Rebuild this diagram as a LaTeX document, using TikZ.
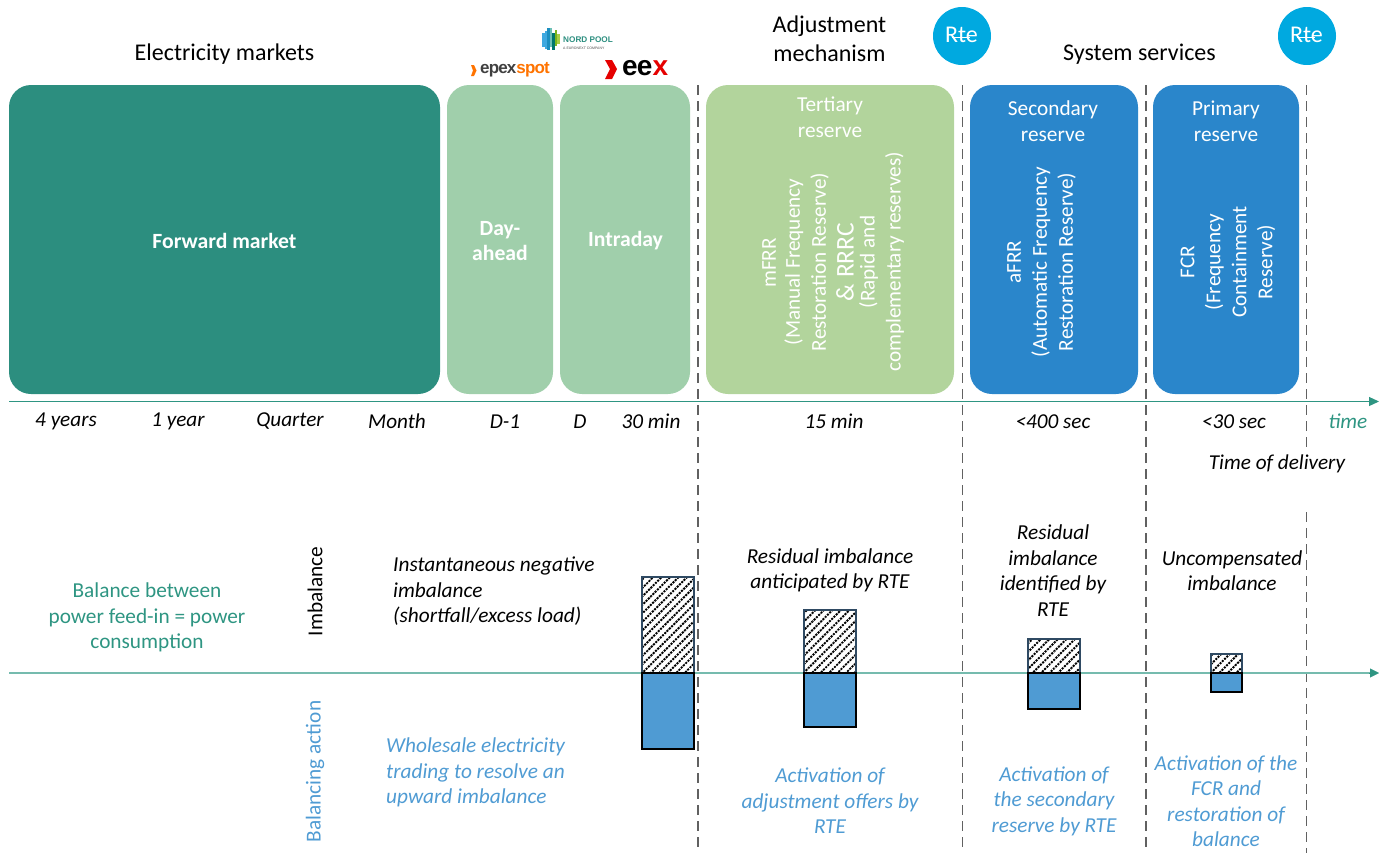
\documentclass[tikz,border=0pt]{standalone}
\usepackage{fontspec}
\setmainfont{Carlito}
\newfontfamily\logofont{Liberation Sans}
\usetikzlibrary{patterns.meta,arrows.meta}
\definecolor{fwd}{HTML}{2C8E7F}
\definecolor{lgreen}{HTML}{A0CFAB}
\definecolor{tert}{HTML}{B2D49C}
\definecolor{blu}{HTML}{2A86CB}
\definecolor{lblue}{HTML}{4F9BD3}
\definecolor{axis}{HTML}{2E9582}
\definecolor{axisl}{HTML}{75BBAE}
\definecolor{rte}{HTML}{00A9E0}
\definecolor{edge}{HTML}{2F4A63}
\tikzset{
  x=1pt,y=-1pt,
  mbox/.style={rounded corners=22pt,draw=none},
  boxlabel/.style={font=\fontsize{21.3}{25.5}\selectfont,text=white,align=center,inner sep=0pt},
  vlabel/.style={font=\fontsize{21.2}{26}\selectfont,text=white,align=center,rotate=90,inner sep=0pt},
  head/.style={font=\fontsize{24}{29}\selectfont,align=center,inner sep=0pt},
  tick/.style={font=\itshape\fontsize{21.2}{24}\selectfont,inner sep=0pt},
  note/.style={font=\itshape\fontsize{21.3}{25.5}\selectfont,align=center,inner sep=0pt},
  bluenote/.style={note,text=lblue},
  dline/.style={draw=black!62,line width=1.8pt,dash pattern=on 10pt off 6pt},
  hatchbar/.style={pattern={Lines[angle=45,distance=6pt,line width=1.9pt]},pattern color=black},
  hatchcut/.style={pattern={Lines[angle=-45,distance=3.2pt,line width=0.8pt]},pattern color=white},
  hatchframe/.style={draw=edge,line width=1.8pt},
  bluebar/.style={draw=black,line width=2.2pt,fill=lblue},
  rtelogo/.style={circle,fill=rte,minimum size=58pt,inner sep=0pt,text=white,font=\fontsize{24}{24}\selectfont},
}
\begin{document}
\begin{tikzpicture}
\useasboundingbox (0,0) rectangle (1379,857);
% boxes
\path[mbox,fill=fwd] (9,85) rectangle (440,394);
\path[mbox,fill=lgreen] (447,85) rectangle (553,394);
\path[mbox,fill=lgreen] (560,85) rectangle (690,394);
\path[mbox,fill=tert] (706,85) rectangle (954,394);
\path[mbox,fill=blu] (970,85) rectangle (1138,394);
\path[mbox,fill=blu] (1153,85) rectangle (1299,394);
\node[boxlabel,font=\bfseries\fontsize{21.7}{25.5}\selectfont] (fm) at (224.5,241) {Forward market};
\node[boxlabel,font=\bfseries\fontsize{21.7}{25.5}\selectfont] (da) at (500,241) {Day-\\ahead};
\node[boxlabel,font=\bfseries\fontsize{21.7}{25.5}\selectfont] (id) at (625.5,241) {Intraday};
\node[boxlabel] (tr) at (830,117) {Tertiary\\reserve};
\node[boxlabel] (sr) at (1053,121) {Secondary\\reserve};
\node[boxlabel] (pr) at (1226,121) {Primary\\reserve};
\node[vlabel] (m1) at (769,263) {mFRR};
\node[vlabel] (m2) at (806.5,262) {(Manual Frequency\\Restoration Reserve)};
\node[vlabel,font=\fontsize{25.5}{26}\selectfont] (m3) at (845,262) {\& RRRC};
\node[vlabel] (m4) at (881.5,262) {(Rapid and\\complementary reserves)};
\node[vlabel] (a1) at (1041.5,262) {aFRR\\(Automatic Frequency\\Restoration Reserve)};
\node[vlabel] (f1) at (1228,262) {FCR\\(Frequency\\Containment\\Reserve)};
% dashed lines
\coordinate (d1t) at (698,85); \coordinate (d1b) at (698,853);
\coordinate (d2t) at (962.5,85); \coordinate (d2b) at (962.5,853);
\coordinate (d3t) at (1146,85); \coordinate (d3b) at (1146,853);
\coordinate (d4t) at (1306.5,85); \coordinate (d4b) at (1306.5,450);
\coordinate (d5t) at (1306.5,512); \coordinate (d5b) at (1306.5,853);
\foreach \a/\b in {d1t/d1b,d2t/d2b,d3t/d3b,d4t/d4b,d5t/d5b} \draw[dline] (\a) -- (\b);
% axes
\coordinate (ax1) at (9,401.5); \coordinate (ax2) at (1379,401.5);
\draw[axis,line width=1.2pt,-{Triangle[length=10pt,width=9pt]}] (ax1) -- (ax2);
\coordinate (bx1) at (9,673); \coordinate (bx2) at (1379,673);
\draw[axisl,line width=1.6pt] (bx1) -- (1370,673);
\draw[axis,-{Triangle[length=9pt,width=9pt]}] (1369,673) -- (bx2);
% headers
\node[head] (h1) at (224.5,54) {Electricity markets};
\node[head] (h2) at (829.5,39) {Adjustment\\mechanism};
\node[head] (h3) at (1139.5,54) {System services};
\node[rtelogo] (r1) at (962,36) {};
\node[rtelogo] (r2) at (1307,36) {};
\foreach \c in {962,1307}{
  \node[inner sep=0pt,text=white,font=\fontsize{24}{24}\selectfont] at (\c-0.5,35) {Rte};
  \draw[white,line width=0.8pt] (\c-10,37) -- (\c+8,37);
}
\fill[white] (930,65) rectangle (995,70);
\fill[white] (1275,65) rectangle (1340,70);
% Nord Pool logo
\foreach \xa/\ya/\yb/\c in {542/33/47/3FA9E0,544.5/31/49/3FA9E0,547/28/50/1C8FC0,549.5/28/47/6CC0B5,552/33/50/00786C,554.5/30/46/7AB51D,557/34/44/A8CF45}
  {\definecolor{tmpc}{HTML}{\c}\fill[tmpc] (\xa,\ya) rectangle (\xa+2.5,\yb);}
\node[inner sep=0pt,anchor=west,font=\logofont\bfseries\fontsize{8.2}{9}\selectfont,text=fwd] (np) at (563,39.5) {NORD POOL};
\node[inner sep=0pt,anchor=west,font=\logofont\fontsize{3.5}{4}\selectfont,text=black!70] (np2) at (563,48.5) {A EURONEXT COMPANY};
% epex
\fill[orange!90!red] (471,65) -- (474,65) -- (476.5,70.5) -- (474,76) -- (471,76) -- (473,70.5) -- cycle;
\node[inner sep=0pt,anchor=west,font=\logofont\bfseries\fontsize{17}{20}\selectfont] (ep) at (480,70) {\addfontfeature{LetterSpace=-5}\textcolor{black!75}{epex}\textcolor{orange!90!red}{spot}};
% eex
\fill[red!90!black] (605,60) -- (612,60) -- (617,69) -- (612,79) -- (605,79) -- (610,69) -- cycle;
\node[inner sep=0pt,anchor=west,font=\logofont\bfseries\fontsize{28}{30}\selectfont] (ee) at (622,68) {\addfontfeature{LetterSpace=-3}ee\textcolor{red!90!black}{x}};
% ticks
\foreach \n/\x/\t in {t1/66/4 years,t2/178/1 year,t3/290/Quarter,t4/397/Month,t5/505/D-1,t6/580/D,t7/651/30 min,t8/834/15 min,t9/1053/<400 sec,t10/1234/<30 sec}
  \node[tick] (\n) at (\x,421.5) {\t};
\node[tick,text=axis] (t11) at (1348,421.5) {time};
\node[tick] (tod) at (1277,464) {Time of delivery};
% left
\node[note,font=\fontsize{21.3}{25.5}\selectfont,text=axis] (bal) at (147,617.5) {Balance between\\power feed-in = power\\consumption};
\node[rotate=90,inner sep=0pt,font=\fontsize{21.3}{24}\selectfont] (imb) at (315,591.5) {Imbalance};
\node[rotate=90,inner sep=0pt,font=\fontsize{21.3}{24}\selectfont,text=lblue] (bac) at (315,771.5) {Balancing action};
% notes
\node[note,align=left,anchor=west] (n1) at (393,591.5) {Instantaneous negative\\imbalance\\(shortfall/excess load)};
\node[note] (n2) at (830,570.5) {Residual imbalance\\anticipated by RTE};
\node[note] (n3) at (1053,570.5) {Residual\\imbalance\\identified by\\RTE};
\node[note] (n4) at (1232,570.5) {Uncompensated\\imbalance};
\node[bluenote,align=left,anchor=west] (b1) at (386,772.5) {Wholesale electricity\\trading to resolve an\\upward imbalance};
\node[bluenote] (b2) at (830,801) {Activation of\\adjustment offers by\\RTE};
\node[bluenote] (b3) at (1054,801) {Activation of\\the secondary\\reserve by RTE};
\node[bluenote] (b4) at (1226,801) {Activation of the\\FCR and\\restoration of\\balance};
% bars
\foreach \xa/\ya/\xb/\yb in {642/577/694/749,804/610/856/727,1028/639/1080/709,1211/654/1242/692}{
  \path[hatchbar] (\xa,\ya) rectangle (\xb,673);
  \path[hatchcut] (\xa,\ya) rectangle (\xb,673);
  \draw[hatchframe] (\xa,\ya) rectangle (\xb,673);
  \draw[bluebar] (\xa,673) rectangle (\xb,\yb);
}
\end{tikzpicture}
\end{document}
